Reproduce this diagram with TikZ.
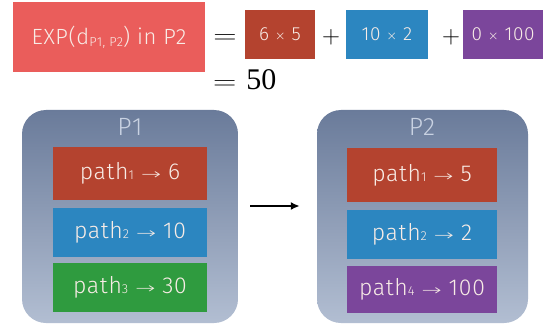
\documentclass[tikz,border=0pt]{standalone}
\usepackage{fontspec}
\setmainfont{Liberation Serif}
\newfontfamily\boxfont[LetterSpace=3]{Fira Sans Light}
\newfontfamily\symfont{DejaVu Sans ExtraLight}
\usetikzlibrary{arrows.meta}
\definecolor{topred}{HTML}{EA5D5B}
\definecolor{dred}{HTML}{B4432F}
\definecolor{mblue}{HTML}{2C86C0}
\definecolor{mgreen}{HTML}{2F9B3F}
\definecolor{mpurple}{HTML}{7B469B}
\definecolor{ctop}{HTML}{6A7B9A}
\definecolor{cbot}{HTML}{B2BED2}
\definecolor{btext}{HTML}{F8ECE6}
\definecolor{ptext}{HTML}{C9D2E2}
\tikzset{
  tbox/.style={rectangle, inner sep=0pt, text=btext, font=\boxfont\fontsize{19}{22}\selectfont},
  pbox/.style={rectangle, inner sep=0pt, text=btext, minimum width=154pt, font=\boxfont\fontsize{23}{26}\selectfont},
  cont/.style={rectangle, rounded corners=24pt, top color=ctop, bottom color=cbot, inner sep=0pt},
  ptitle/.style={text=ptext, font=\boxfont\fontsize{25}{28}\selectfont, inner sep=0pt},
  eqtext/.style={font=\fontsize{30}{34}\selectfont, inner sep=0pt}
}
\newcommand{\arr}{\hspace*{7pt}\scalebox{1.6}[1]{\symfont\fontsize{15}{18}\selectfont →}\hspace*{7pt}}
\newcommand{\tms}{{\symfont\fontsize{13}{15}\selectfont ×}}
\newcommand{\sbs}[1]{\raisebox{-2pt}{\fontsize{13}{15}\selectfont #1}}
\newcommand{\pidx}[1]{{\fontsize{13}{15}\selectfont #1}}
\newcommand{\weq}{\scalebox{1.3}[1]{$=$}}
\begin{document}
\begin{tikzpicture}[x=1pt,y=-1pt]
\useasboundingbox[fill=white] (0,0) rectangle (553,331);
% top equation
\node[tbox, fill=topred, minimum width=192pt, minimum height=70pt, font=\boxfont\fontsize{22}{26}\selectfont] (exp) at (109,37) {EXP(d\sbs{P1, P2}) in P2};
\node[eqtext] (eq1) at (225,39) {\weq};
\node[tbox, fill=dred, minimum width=70pt, minimum height=49pt] (t1) at (280,34.5) {6 \tms{} 5};
\node[eqtext] (pl1) at (331,37) {$+$};
\node[tbox, fill=mblue, minimum width=82pt, minimum height=49pt] (t2) at (387,34.5) {10 \tms{} 2};
\node[eqtext] (pl2) at (451,37) {$+$};
\node[tbox, fill=mpurple, minimum width=80pt, minimum height=49pt] (t3) at (503,34.5) {0 \tms{} 100};
\node[eqtext, anchor=west] (res) at (213,80) {\weq\hspace*{10pt}50};
% containers
\node[cont, minimum width=216pt, minimum height=213pt] (P1) at (130,216.5) {};
\node[cont, minimum width=211pt, minimum height=213pt] (P2) at (422.5,216.5) {};
\node[ptitle] (P1t) at (130,127) {P1};
\node[ptitle] (P2t) at (422,127) {P2};
% P1 boxes
\node[pbox, fill=dred, minimum height=53pt] (a1) at (130,173.5) {path\pidx{1}\arr 6};
\node[pbox, fill=mblue, minimum height=49pt] (a2) at (130,232.5) {path\pidx{2}\arr 10};
\node[pbox, fill=mgreen, minimum height=49pt] (a3) at (130,287.5) {path\pidx{3}\arr 30};
% P2 boxes
\node[pbox, fill=dred, minimum width=150pt, minimum height=54pt] (b1) at (422,175) {path\pidx{1}\arr 5};
\node[pbox, fill=mblue, minimum width=150pt, minimum height=49pt] (b2) at (422,234.5) {path\pidx{2}\arr 2};
\node[pbox, fill=mpurple, minimum width=150pt, minimum height=47pt] (b3) at (422,289.5) {path\pidx{4}\arr 100};
% arrow
\draw[line width=1.8pt, -{Latex[length=9pt,width=8pt]}, shorten <=12pt, shorten >=17pt] (P1.east |- 0,206) -- (P2.west |- 0,206);
\end{tikzpicture}
\end{document}
